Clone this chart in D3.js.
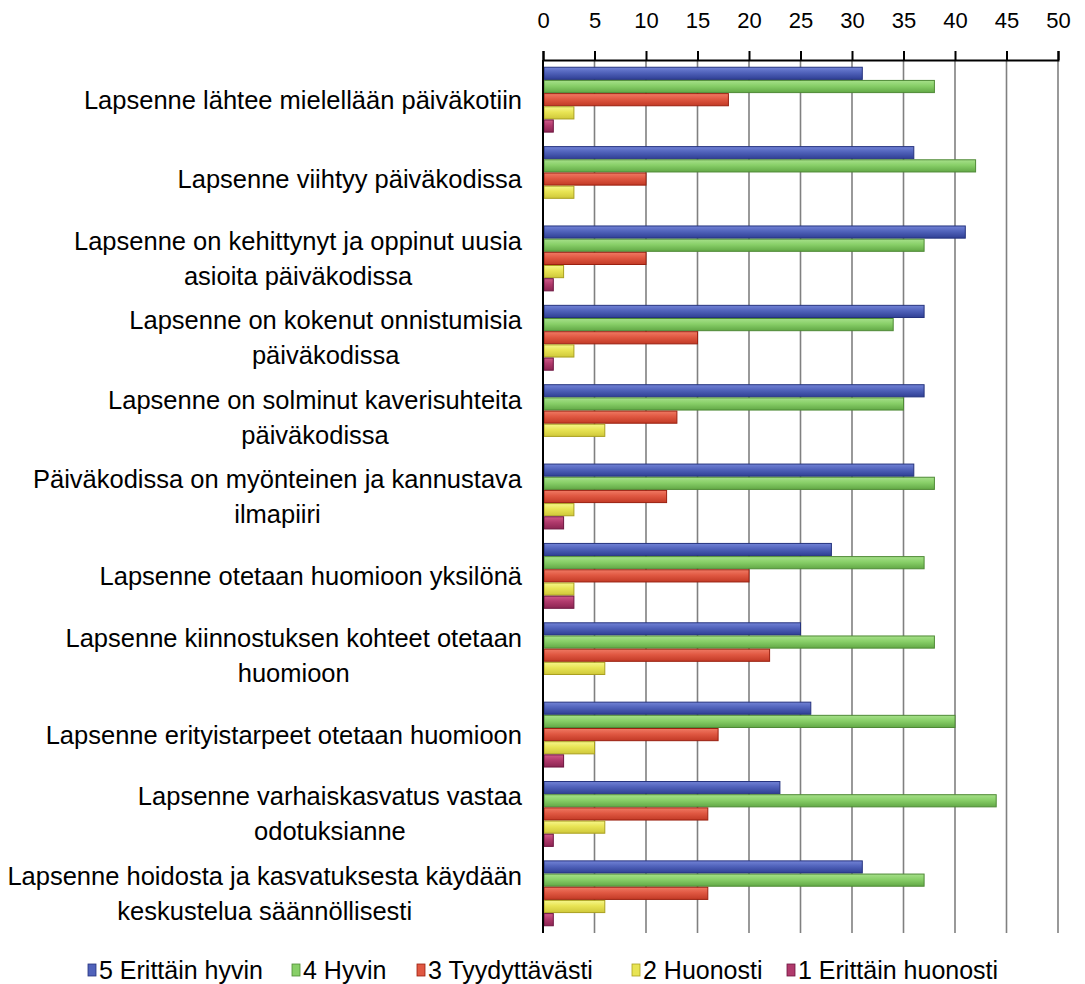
<!DOCTYPE html>
<meta charset="utf-8">
<style>
body { margin: 0; background: #fff; }
svg { display: block; }
text { font-family: Arial, "Liberation Sans", sans-serif; fill: #000; }
.grid line { stroke: #808080; stroke-width: 1.6px; }
</style>
<body>
<script src="https://d3js.org/d3.v7.min.js"></script>
<script>
// categories (line breaks as wrapped in the original)
var categories = [
  "Lapsenne lähtee mielellään päiväkotiin",
  "Lapsenne viihtyy päiväkodissa",
  "Lapsenne on kehittynyt ja oppinut uusia\nasioita päiväkodissa",
  "Lapsenne on kokenut onnistumisia\npäiväkodissa",
  "Lapsenne on solminut kaverisuhteita\npäiväkodissa",
  "Päiväkodissa on myönteinen ja kannustava\nilmapiiri",
  "Lapsenne otetaan huomioon yksilönä",
  "Lapsenne kiinnostuksen kohteet otetaan\nhuomioon",
  "Lapsenne erityistarpeet otetaan huomioon",
  "Lapsenne varhaiskasvatus vastaa\nodotuksianne",
  "Lapsenne hoidosta ja kasvatuksesta käydään\nkeskustelua säännöllisesti"
];
var seriesNames = ["5 Erittäin hyvin", "4 Hyvin", "3 Tyydyttävästi", "2 Huonosti", "1 Erittäin huonosti"];
var s5 = [31, 36, 41, 37, 37, 36, 28, 25, 26, 23, 31];
var s4 = [38, 42, 37, 34, 35, 38, 37, 38, 40, 44, 37];
var s3 = [18, 10, 10, 15, 13, 12, 20, 22, 17, 16, 16];
var s2 = [3, 3, 2, 3, 6, 3, 3, 6, 5, 6, 6];
var s1 = [1, 0, 1, 1, 0, 2, 3, 0, 2, 1, 1];
var tickValues = [0, 5, 10, 15, 20, 25, 30, 35, 40, 45, 50];

var series = [s5, s4, s3, s2, s1];
var colors = [
  {light: "#7283d6", base: "#5062ba", dark: "#2f3f94", stroke: "#25337e"},
  {light: "#a6e08a", base: "#88cf68", dark: "#62a846", stroke: "#4f8a36"},
  {light: "#f07a64", base: "#e05842", dark: "#c23a26", stroke: "#9a2010"},
  {light: "#f6f68a", base: "#e8e454", dark: "#cfc83a", stroke: "#aaa020"},
  {light: "#d05a8a", base: "#b03a6c", dark: "#8c2552", stroke: "#6e1640"}
];

var width = 1085, height = 984;
var svg = d3.select("body").append("svg")
    .attr("width", width)
    .attr("height", height);

var defs = svg.append("defs");
colors.forEach(function(c, i) {
  var g = defs.append("linearGradient")
      .attr("id", "grad" + i)
      .attr("x1", 0).attr("y1", 0).attr("x2", 0).attr("y2", 1);
  g.append("stop").attr("offset", "0%").attr("stop-color", c.light);
  g.append("stop").attr("offset", "45%").attr("stop-color", c.base);
  g.append("stop").attr("offset", "100%").attr("stop-color", c.dark);
});

var x = d3.scaleLinear().domain([0, 50]).range([543, 1058]);
var y = d3.scaleBand().domain(categories).range([60, 933])
    .paddingInner(0.17).paddingOuter(0.085);
var yi = d3.scaleBand().domain(d3.range(series.length)).range([0, y.bandwidth()]);

// gridlines
svg.append("g").attr("class", "grid")
  .selectAll("line")
  .data(tickValues.slice(1))
  .enter().append("line")
    .attr("x1", d => x(d)).attr("x2", d => x(d))
    .attr("y1", 60).attr("y2", 933);

// bars
var groups = svg.append("g").selectAll("g")
  .data(categories)
  .enter().append("g")
    .attr("transform", d => "translate(0," + y(d) + ")");

groups.selectAll("rect")
  .data((d, ci) => series.map((s, si) => ({si: si, v: s[ci]})).filter(e => e.v > 0))
  .enter().append("rect")
    .attr("x", x(0) + 1)
    .attr("y", d => yi(d.si) + 0.5)
    .attr("width", d => x(d.v) - x(0) - 1)
    .attr("height", yi.bandwidth() - 1)
    .attr("fill", d => "url(#grad" + d.si + ")")
    .attr("stroke", d => colors[d.si].stroke)
    .attr("stroke-width", 1);

// top axis
var axis = svg.append("g")
    .attr("transform", "translate(0,60)")
    .call(d3.axisTop(x).tickValues(tickValues).tickSize(9).tickPadding(23));
axis.select(".domain").attr("stroke", "#000").attr("stroke-width", 2);
axis.selectAll(".tick line").attr("stroke", "#000").attr("stroke-width", 2);
axis.selectAll(".tick text")
    .style("font-size", "22px")
    .style("font-family", "Arial, 'Liberation Sans', sans-serif");

// left category axis line
svg.append("line")
    .attr("x1", x(0)).attr("x2", x(0))
    .attr("y1", 60).attr("y2", 933)
    .attr("stroke", "#000").attr("stroke-width", 2);

// category labels (right aligned block, lines centered on each other)
var lineH = 35;
svg.append("g").selectAll("g")
  .data(categories)
  .enter().append("g")
  .each(function(d) {
    var lines = d.split("\n");
    var g = d3.select(this);
    var cy = y(d) + y.bandwidth() / 2;
    var top = cy - (lines.length - 1) * lineH / 2;
    var first = g.append("text")
        .attr("x", 522).attr("y", top)
        .attr("dy", "0.35em")
        .attr("text-anchor", "end")
        .style("font-size", "25.5px")
        .text(lines[0]);
    var w = first.node().getComputedTextLength();
    lines.slice(1).forEach(function(l, i) {
      g.append("text")
        .attr("x", 522 - w / 2).attr("y", top + (i + 1) * lineH)
        .attr("dy", "0.35em")
        .attr("text-anchor", "middle")
        .style("font-size", "25.5px")
        .text(l);
    });
  });

// legend
var legendX = [88, 292, 417, 632, 787];
var legend = svg.append("g").selectAll("g")
  .data(seriesNames)
  .enter().append("g")
    .attr("transform", (d, i) => "translate(" + legendX[i] + ",970)");
legend.append("rect")
    .attr("x", 0).attr("y", -6)
    .attr("width", 8).attr("height", 12)
    .attr("fill", (d, i) => colors[i].base)
    .attr("stroke", (d, i) => colors[i].stroke)
    .attr("stroke-width", 0.8);
legend.append("text")
    .attr("x", 11).attr("y", 0)
    .attr("dy", "0.35em")
    .style("font-size", "25px")
    .text(d => d);
</script>
</body>
